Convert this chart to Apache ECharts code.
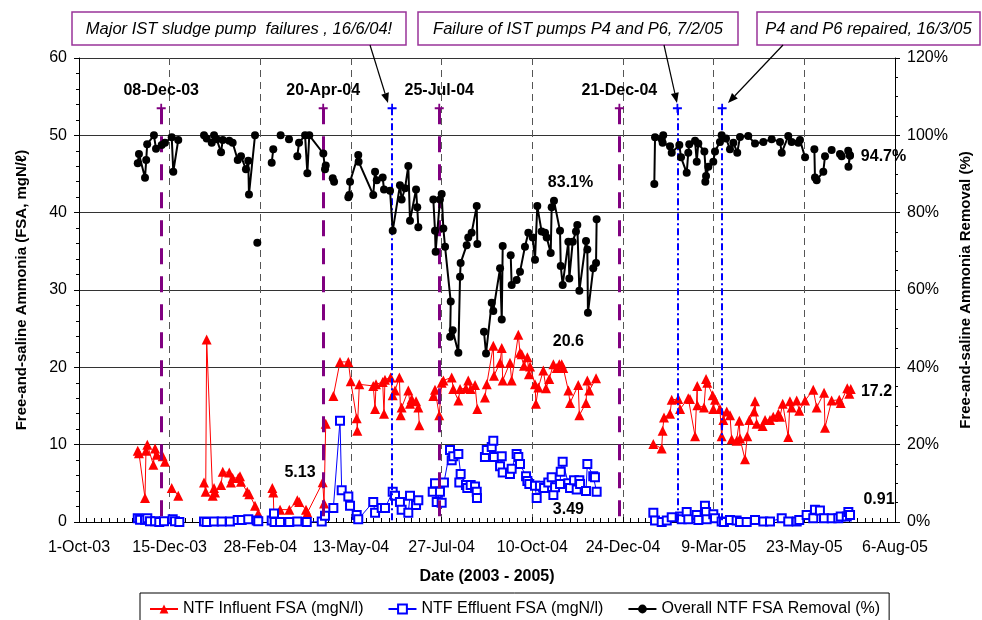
<!DOCTYPE html>
<html>
<head>
<meta charset="utf-8">
<script src="https://cdn.jsdelivr.net/npm/echarts@6/dist/echarts.min.js"></script>
<style>
  html, body { margin: 0; padding: 0; background: #fff; }
  #chart { width: 982px; height: 620px; }
</style>
</head>
<body>
<div id="chart"></div>
<script>
// x values are days since 1-Oct-03, null = break in the line
const influent = [
  [48.6, 9.2], [49.6, 8.9], [54.6, 3.1], [55.4, 9.2], [56.5, 10], [61.5, 7.4], [62.9, 9.5], [64.3, 8.7], [69.2, 8.5], [71.1, 7.8],
  null,
  [76.7, 4.4], [82.1, 3.4],
  null,
  [103.4, 5.1], [104.8, 3.9], [105.6, 23.6], [110.6, 3.4], [111.7, 4.4], [112.5, 3.8], [117.5, 4.8], [118.9, 6.5], [124.3, 6.4],
  [125.7, 5.1], [127.1, 5.7], [131.8, 5.7], [133.2, 5.9], [134, 5.2], [139.2, 3.9], [140.9, 3.6], [145.6, 2.1], [148.3, 1.1],
  null,
  [159.9, 4.4], [160.7, 3.8], [161.3, 0.2], [166.3, 1.6], [174, 1.6], [180.6, 2.8], [182.2, 2.6], [187.8, 1.6], [188.9, 1.2],
  [201.6, 5.13], [202.7, 2.4], [204.1, 12.7],
  null,
  [210.4, 16.3], [215.9, 20.7], [222.8, 20.7], [224.8, 18.2], [229.7, 13.4], [230.2, 11.8], [231.9, 17.8], [243.4, 17.6],
  [244.9, 14.6], [245.7, 17.8], [251.2, 18.1], [252.3, 14], [253.1, 18.4], [257.8, 18.7], [259.5, 16.4], [261.4, 17],
  [265, 18.7], [266.1, 13.8], [266.9, 14.8], [272.4, 17], [273.8, 15.3], [275.2, 15.9], [278.8, 15.6], [280.7, 14.8], [281.5, 12.5],
  null,
  [293.1, 16.3], [294.5, 17.1], [298, 13.8], [300, 18], [301.4, 18.3], [308.3, 18.7], [309.6, 17.2], [313.8, 15.7], [315.2, 17.2],
  [320.1, 17.3], [322, 18.3], [324, 17.2], [327.6, 17.7], [329.5, 14.6],
  null,
  [335.8, 16.1], [337.3, 17.8], [342.7, 22.8], [343.3, 18.9], [348.3, 20.6], [349.7, 22.5], [350.5, 18.3], [356.5, 20.6],
  [357.9, 18.3], [363.4, 24.2], [364.8, 21.9], [366.2, 21.7], [368.1, 20.2], [370.9, 21.3], [372.2, 19.1], [373.1, 20.1],
  [377.2, 17.8], [378, 15.3], [380, 17.4], [384.1, 19.6], [386.3, 17.3], [389, 18.5], [392.4, 20.4], [395.2, 19.9],
  [397.3, 20.4], [399.3, 20.4], [400.6, 19.9], [404.8, 17], [406.2, 15.4], [413, 17.7], [413.9, 13.8], [419.4, 15.4],
  [420.5, 18.3], [422.1, 17], [427.7, 18.6],
  null,
  [475.1, 10.1], [482, 9.5], [482.8, 11.8], [483.9, 13.5], [488.9, 14], [490.3, 15.8], [495.7, 15.9], [497.2, 14.6],
  [504, 16], [505.4, 15.9], [509.6, 11.1], [511.4, 17.6], [511.5, 15.1], [517, 14.8], [518.7, 18.5], [519.7, 18],
  [524.2, 16.4], [524.7, 14.6], [526.1, 15.8], [530.2, 14.6], [531.6, 11.1], [533, 13.2], [535.8, 14.3], [538.5, 13.8],
  [539.9, 10.7], [544, 10.5], [546.2, 13.1], [546.8, 10.8], [550.9, 8.1], [552.8, 11.1], [554.5, 13.2], [558.4, 14.3],
  [559.2, 15.6], [560.6, 12.7], [565.5, 12.4], [567.5, 13.2], [571.6, 13.2], [574.3, 13.6], [578.5, 14], [579.9, 13.6],
  [582.1, 15.3], [586.7, 11], [588.1, 15.6], [589.5, 14.8], [593.7, 15.7], [595.8, 14.4], [600.6, 15.7], [607.4, 17.1],
  [610.2, 14.8], [616.3, 16.7], [617.1, 12.2], [622.6, 15.7], [628.9, 15.8], [630.1, 15.4], [635.5, 17.3], [637.2, 16.6], [638.4, 17.2]
];

const effluent = [
  [48.6, 0.5], [50.5, 0.3], [54.6, 0.3], [56.5, 0.5], [58.7, 0.1], [62.9, 0.1], [66.4, 0], [70.3, 0.1],
  null,
  [77.5, 0.35], [79.4, 0.1], [83, 0],
  null,
  [103.4, 0.05], [105.6, 0], [111.7, 0.05], [118, 0.05], [124.9, 0.05], [131.3, 0.25], [134.6, 0.25], [140, 0.35], [147, 0.2], [148.3, 0.1],
  null,
  [159.4, 0.2], [161.3, 1.1], [161.8, 0], [166.3, 0], [174, 0], [180.6, 0.05], [188.4, 0], [200.8, 0.05], [203.5, 0.8],
  [210.4, 1.8], [215.9, 13.1], [217.3, 4.1], [222.8, 3.3], [224.2, 2.1], [229.7, 0.9], [231, 0.35], [243.4, 2.6], [244.9, 1.2],
  [250.4, 1.8], [253.1, 1.8], [259.5, 3.9], [261.4, 3.4], [265.5, 2.6], [266.9, 1.6], [272.4, 1.2], [273.8, 3.4], [278.8, 2.2], [280.7, 2.8],
  null,
  [292.6, 3.9], [294.5, 5], [295.9, 2.6], [298.6, 3.9], [300, 2.5], [301.9, 5.1], [306.9, 9.3], [308.3, 8], [309.6, 8.5],
  [313.8, 8.8], [315.7, 6.2], [314.6, 5.1], [320.1, 4.8], [321.2, 4.4], [324, 4.8], [327.6, 4.6], [329, 3.9], [329.2, 3.1],
  null,
  [335.8, 8.4], [337.3, 9.3], [341.4, 9.7], [342.7, 10.5], [343.3, 8.4], [348.3, 7.2], [349.7, 8.5], [350.5, 6.4], [356.5, 6.2],
  [357.9, 6.9], [362, 8.8], [363.4, 8.4], [364.8, 7.5], [369.8, 5.9], [370.9, 5.3], [372.5, 4.9], [377.2, 4.7], [378.6, 3.1],
  [381.3, 4.7], [384.7, 4.4], [388.2, 5.1], [391, 5.8], [392.4, 3.49], [393.8, 4.5], [397.9, 4.9], [398.5, 6.5], [400.1, 7.8],
  [404.8, 5], [406.2, 4.4], [409.5, 5.4], [411.7, 4.2], [413.9, 5.4], [414.5, 4.9], [419.4, 4], [420.5, 7.5], [425.4, 5.9],
  [426.8, 5.8], [428.2, 3.9],
  null,
  [475.1, 1.2], [476.5, 0.2], [482, 0], [486.2, 0.2], [490.3, 0.6], [497.2, 0.7], [498.6, 0.35], [502.7, 1.3], [504, 0.35],
  [510.9, 0.9], [512.3, 0.25], [517.8, 2.1], [518.7, 1.3], [519.2, 0.35], [524.7, 1], [526.1, 0.5], [531.6, 0.05], [533.5, 0],
  [538.5, 0.25], [544, 0.2], [546.8, 0], [552.3, 0], [559.2, 0.25], [566.1, 0.05], [571.6, 0.05], [581.3, 0.5], [586.7, 0.05],
  [593.7, 0.05], [595.8, 0.25], [601.9, 0.9], [607.4, 0.5], [608.8, 1.6], [612.9, 1.5], [616.3, 0.5], [622.6, 0.5], [628.1, 0.5],
  [630.1, 0.7], [635.1, 0.7], [636.4, 1.3], [637.8, 0.91]
];

const removal = [
  [48.6, 92.8], [49.6, 95.2], [54.6, 89.0], [55.6, 93.6], [56.4, 97.7], [62, 100], [63.7, 96.5], [68.4, 97.5], [71.1, 98.1],
  [76.7, 99.5], [78, 90.6], [82.1, 98.8],
  null,
  [103.4, 100], [105.6, 99.2], [109.8, 98.1], [111.7, 100], [113.9, 99], [117.5, 95.6], [118.9, 98.8], [124.3, 98.6],
  [127.1, 98.1], [131.3, 93.6], [134, 94.6], [138.1, 91.2], [140, 93.4], [140.6, 84.7], [145.6, 100],
  null,
  [147.5, 72.2],
  null,
  [159.4, 92.9], [160.7, 96.4],
  null,
  [166.8, 100],
  null,
  [173.7, 99],
  null,
  [180.6, 94.6], [182, 98.1], [187, 100], [188.9, 90.2], [190.5, 100], [202.1, 95.3], [203.5, 91.2], [204.1, 92.2],
  null,
  [209.9, 88.9], [211, 88.0],
  null,
  [222.8, 84], [223.6, 84.6], [224.2, 88], [231, 94.9], [231.3, 93.2], [243.4, 84.6], [244.9, 90.6], [246.3, 88.4],
  [251.2, 89.1], [252.3, 86], [257.3, 85.7], [259.5, 75.3], [265.5, 87.1], [266.9, 83.4], [269.7, 86.3], [272.4, 92.1],
  [273.8, 77.9], [278.8, 86], [279.8, 81.4], [280.7, 76.2],
  null,
  [293.1, 83.4], [294.5, 75.3], [295, 69.9], [298.6, 83.4], [300, 84.8], [301.4, 75.9], [302.8, 71.2], [307.5, 57],
  [307, 47.9], [309.1, 49.6], [313.8, 43.8], [315.2, 63.4], [315.7, 67], [320.7, 71.6], [322, 73.6], [324.8, 74.8],
  [329, 81.7], [329.5, 71.9],
  null,
  [335, 49.2], [336.7, 43.6], [341.4, 56.7], [342.7, 54.6], [348.3, 65.6], [349.7, 52.4], [350.5, 71.4],
  null,
  [357.1, 69], [357.9, 61.3], [362, 62.6], [364.8, 64.7], [368.9, 71.2], [371.7, 74.8], [375.3, 73.6], [377.2, 67.8],
  [379.1, 81.7], [382.7, 75.1], [385.5, 74.8], [386.9, 73.6], [390.2, 69.6], [391, 81.4], [392.9, 83.1], [397.9, 75.3],
  [398.5, 66.2], [400.1, 61.3], [404.8, 72.5], [405.6, 63], [408.4, 72.5], [411.1, 75.1], [412.2, 76.8], [413.9, 59.8],
  [419.4, 72.7], [420.5, 70.5], [421, 54.1], [425.4, 65.6], [427.7, 67], [428.2, 78.3],
  null,
  [475.9, 87.4], [476.5, 99.5], [482, 99], [483.3, 100], [482.8, 98.1], [488.9, 97.2], [490.3, 95.5], [496.6, 97.5],
  [498, 94.3], [502.7, 90.3], [504, 95.5], [504.8, 97.7], [509.6, 98.6], [511, 93.2], [512.3, 97.9], [517.3, 95.8],
  [518.7, 89.5], [518.1, 88], [520.6, 91.9], [524.7, 93.2], [526.1, 95.8], [530.2, 98.3], [531.6, 100], [535.2, 99.2],
  [538.5, 96.4], [541.3, 98.1], [544.5, 95.5], [546.8, 99.6], [553.6, 99.8], [559.2, 97.9], [566.1, 98.3], [573, 99],
  [579.9, 98.3], [581.3, 95.5], [586.7, 99.8], [589.5, 98.3], [595, 98.1], [596.4, 98.8], [600.6, 94.3],
  null,
  [608.3, 96.4], [608.8, 89.1], [610.2, 88.4], [615.7, 90.6], [617.1, 94.6],
  null,
  [622.6, 96.2],
  null,
  [629.5, 95.2], [630.9, 94.6],
  null,
  [636.3, 96], [637.6, 94.9], [636.5, 91.9], [637.8, 94.7]
];

// events: sludge-system milestones (purple) and pump failures/repair (blue)
const eventDays = [68, 202, 298, 447];
const eventLabels = ['08-Dec-03', '20-Apr-04', '25-Jul-04', '21-Dec-04'];
const pumpDays = [259, 495, 532];
const lineTop = 53.5;

const notes = [
  { text: 'Major IST sludge pump  failures , 16/6/04!', box: [72, 12, 334, 33], from: [370, 45], to: [388, 103] },
  { text: 'Failure of IST pumps P4 and P6, 7/2/05', box: [418, 12, 320, 33], from: [664, 45], to: [677, 103] },
  { text: 'P4 and P6 repaired, 16/3/05', box: [757, 12, 223, 33], from: [783, 45], to: [728, 103] }
];

const START = Date.UTC(2003, 9, 1);
const MONTHS = ['Jan','Feb','Mar','Apr','May','Jun','Jul','Aug','Sep','Oct','Nov','Dec'];
function dayLabel(v) {
  const d = new Date(START + v * 86400000);
  return d.getUTCDate() + '-' + MONTHS[d.getUTCMonth()] + '-' + String(d.getUTCFullYear()).slice(2);
}

const FONT = '"Liberation Sans", Arial, sans-serif';
const PLUS = 'path://M4,0H6V4H10V6H6V10H4V6H0V4H4Z';

function arrow(from, to) {
  const dx = to[0] - from[0], dy = to[1] - from[1];
  const len = Math.sqrt(dx * dx + dy * dy);
  const ux = dx / len, uy = dy / len;
  const bx = to[0] - ux * 10, by = to[1] - uy * 10;
  return [
    { type: 'line', shape: { x1: from[0], y1: from[1], x2: bx, y2: by }, style: { stroke: '#000', lineWidth: 1.2 } },
    { type: 'polygon', shape: { points: [to, [bx - uy * 4, by + ux * 4], [bx + uy * 4, by - ux * 4]] }, style: { fill: '#000' } }
  ];
}

const graphics = [];
notes.forEach(n => {
  graphics.push({ type: 'rect', shape: { x: n.box[0], y: n.box[1], width: n.box[2], height: n.box[3] },
    style: { fill: '#fff', stroke: '#993399', lineWidth: 1.5 }, z: 10 });
  graphics.push({ type: 'text', x: n.box[0] + n.box[2] / 2, y: n.box[1] + n.box[3] / 2 + 1, z: 11,
    style: { text: n.text, fill: '#000', font: 'italic 16.5px ' + FONT, textAlign: 'center', textVerticalAlign: 'middle' } });
  arrow(n.from, n.to).forEach(g => { g.z = 11; graphics.push(g); });
});

const chart = echarts.init(document.getElementById('chart'));
const labelStyle = { show: true, color: '#000', fontWeight: 'bold', fontSize: 16, fontFamily: FONT, position: 'inside' };
function note(x, y, text) {
  return { coord: [x, y], value: text, symbol: 'circle', symbolSize: 1, itemStyle: { color: 'rgba(0,0,0,0)' },
    label: Object.assign({}, labelStyle, { formatter: text }) };
}

chart.setOption({
  animation: false,
  backgroundColor: '#fff',
  textStyle: { fontFamily: FONT },
  grid: { left: 79, right: 87, top: 58, bottom: 98 },
  graphic: graphics,
  legend: {
    left: 140, top: 593,
    padding: [8, 9, 8, 9],
    borderColor: '#000', borderWidth: 1,
    itemWidth: 28, itemHeight: 11, itemGap: 24,
    textStyle: { fontSize: 16, color: '#000', fontFamily: FONT },
    data: ['NTF Influent FSA (mgN/l)', 'NTF Effluent FSA (mgN/l)', 'Overall NTF FSA Removal (%)']
  },
  xAxis: {
    type: 'value', min: 0, max: 675, interval: 75,
    name: 'Date (2003 - 2005)', nameLocation: 'middle', nameGap: 47,
    nameTextStyle: { fontWeight: 'bold', fontSize: 16, color: '#000' },
    axisLine: { lineStyle: { color: '#000' } },
    axisTick: { inside: true, length: 5, lineStyle: { color: '#000' } },
    minorTick: { show: true, splitNumber: 12, length: 4, lineStyle: { color: '#000' } },
    axisLabel: { formatter: dayLabel, fontSize: 16, color: '#000', margin: 18 },
    splitLine: { show: true, lineStyle: { color: '#555', type: [7, 5], width: 1 } }
  },
  yAxis: [{
    type: 'value', min: 0, max: 60, interval: 10,
    name: 'Free-and-saline Ammonia (FSA, mgN/\u2113)', nameLocation: 'middle', nameGap: 50, nameRotate: 90,
    nameTextStyle: { fontWeight: 'bold', fontSize: 15, color: '#000' },
    axisLine: { show: true, lineStyle: { color: '#000' } },
    axisTick: { show: true, length: 5, lineStyle: { color: '#000' } },
    minorTick: { show: true, splitNumber: 5, length: 3, lineStyle: { color: '#000' } },
    axisLabel: { fontSize: 16, color: '#000', margin: 12 },
    splitLine: { show: true, lineStyle: { color: '#333', width: 1 } }
  }, {
    type: 'value', min: 0, max: 120, interval: 20,
    name: 'Free-and-saline Ammonia Removal (%)', nameLocation: 'middle', nameGap: 62, nameRotate: 90,
    nameTextStyle: { fontWeight: 'bold', fontSize: 15, color: '#000' },
    axisLine: { show: true, lineStyle: { color: '#000' } },
    axisTick: { show: true, length: 5, lineStyle: { color: '#000' } },
    minorTick: { show: true, splitNumber: 4, length: 3, lineStyle: { color: '#000' } },
    axisLabel: { formatter: '{value}%', fontSize: 16, color: '#000', margin: 12 },
    splitLine: { show: false }
  }],
  series: [{
    name: 'NTF Influent FSA (mgN/l)',
    type: 'line', yAxisIndex: 0, data: influent, connectNulls: false, showAllSymbol: true,
    symbol: 'triangle', symbolSize: 10,
    lineStyle: { color: '#ff0000', width: 1 },
    itemStyle: { color: '#ff0000' },
    z: 3,
    markLine: {
      silent: true, animation: false,
      symbol: ['none', 'none'],
      lineStyle: { color: '#800080', width: 3, type: [16, 12] },
      label: { show: true, position: 'start', formatter: '{b}', distance: 10, color: '#000',
        fontWeight: 'bold', fontSize: 16, fontFamily: FONT },
      data: eventDays.map((d, i) => [
        { coord: [d, lineTop], name: eventLabels[i], symbol: PLUS, symbolSize: 9, itemStyle: { color: '#800080' } },
        { coord: [d, 0], symbol: 'none' }
      ])
    },
    markPoint: {
      silent: true, animation: false,
      data: [note(404.8, 23.35, '20.6'), note(182.8, 6.4, '5.13'), note(659.7, 16.9, '17.2')]
    }
  }, {
    name: 'NTF Effluent FSA (mgN/l)',
    type: 'line', yAxisIndex: 0, data: effluent, connectNulls: false, showAllSymbol: true,
    symbol: 'emptyRect', symbolSize: 8,
    lineStyle: { color: '#0000ff', width: 1 },
    itemStyle: { color: '#0000ff', borderWidth: 1.2 },
    z: 4,
    markLine: {
      silent: true, animation: false,
      symbol: ['none', 'none'],
      lineStyle: { color: '#0000ff', width: 2, type: [7, 3, 2, 3] },
      label: { show: false },
      data: pumpDays.map(d => [
        { coord: [d, lineTop], symbol: PLUS, symbolSize: 9, itemStyle: { color: '#0000ff' } },
        { coord: [d, 0], symbol: 'none' }
      ])
    },
    markPoint: {
      silent: true, animation: false,
      data: [note(404.8, 1.55, '3.49'), note(661.8, 2.85, '0.91')]
    }
  }, {
    name: 'Overall NTF FSA Removal (%)',
    type: 'line', yAxisIndex: 1, data: removal, connectNulls: false, showAllSymbol: true,
    symbol: 'circle', symbolSize: 8,
    lineStyle: { color: '#000', width: 2 },
    itemStyle: { color: '#000' },
    z: 5,
    markPoint: {
      silent: true, animation: false,
      data: [note(406.6, 87.8, '83.1%'), note(665.5, 94.5, '94.7%')]
    }
  }]
});
</script>
</body>
</html>
